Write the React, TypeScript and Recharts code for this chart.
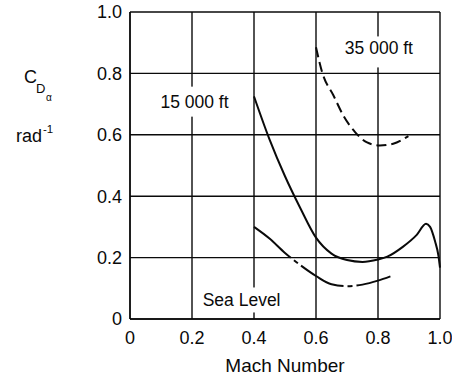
import {
  LineChart,
  Line,
  XAxis,
  YAxis,
  CartesianGrid,
  ReferenceDot,
  Label,
} from "recharts";

const TICKS = [0, 0.2, 0.4, 0.6, 0.8, 1.0];

// 15 000 ft (solid)
const FT15_MACH = [0.4, 0.45, 0.5, 0.55, 0.6, 0.65, 0.7, 0.75, 0.8, 0.83, 0.88, 0.925, 0.955, 0.968, 0.984, 0.995, 1.0];
const FT15_CD = [0.725, 0.585, 0.465, 0.36, 0.265, 0.213, 0.192, 0.186, 0.194, 0.203, 0.235, 0.274, 0.31, 0.3, 0.253, 0.206, 0.167];

// 35 000 ft (dashed)
const FT35_MACH = [0.6, 0.621, 0.656, 0.688, 0.726, 0.763, 0.806, 0.849, 0.898];
const FT35_CD = [0.885, 0.8, 0.729, 0.663, 0.609, 0.576, 0.565, 0.571, 0.596];

// Sea level (chain line)
const SEA_MACH = [0.4, 0.45, 0.5, 0.55, 0.6, 0.65, 0.7, 0.75, 0.8, 0.84];
const SEA_CD = [0.3, 0.262, 0.215, 0.175, 0.14, 0.113, 0.107, 0.112, 0.125, 0.139];

const toPoints = (mach: number[], cd: number[]) =>
  mach.map((m, i) => ({ mach: m, cd: cd[i] }));

const INK = "#0a0a0a";
const FONT = "'Liberation Sans', Arial, Helvetica, sans-serif";

const fmt = (v: number) => (v === 0 ? "0" : v.toFixed(1));

function Note({ cx, cy, text, w, h, dy = 0 }: any) {
  return (
    <g>
      <rect x={cx - w / 2} y={cy - h / 2 + dy} width={w} height={h} fill="#fff" />
      <text
        x={cx}
        y={cy}
        textAnchor="middle"
        dominantBaseline="central"
        fontSize={17.5}
        fontFamily={FONT}
        fill={INK}
      >
        {text}
      </text>
    </g>
  );
}

function YTitle(props: any) {
  const vb = props.viewBox || { x: 0, y: 12 };
  const x0 = vb.x;
  const y0 = vb.y - 12;
  return (
    <g fontFamily={FONT} fill={INK}>
      <text x={x0 + 24} y={y0 + 83} fontSize={18}>C</text>
      <text x={x0 + 36} y={y0 + 93} fontSize={13}>D</text>
      <text x={x0 + 46} y={y0 + 101} fontSize={10}>α</text>
      <text x={x0 + 16} y={y0 + 142} fontSize={18}>rad</text>
      <text x={x0 + 43} y={y0 + 133} fontSize={11.5}>-1</text>
    </g>
  );
}

function XTitle(props: any) {
  const vb = props.viewBox || { x: 130, y: 319, width: 310 };
  return (
    <text
      x={vb.x + vb.width / 2}
      y={vb.y + 53}
      textAnchor="middle"
      fontSize={19}
      fontFamily={FONT}
      fill={INK}
    >
      Mach Number
    </text>
  );
}

export default function App() {
  const tick = { fontSize: 18, fill: INK, fontFamily: FONT };
  return (
    <div
      style={{
        position: "absolute",
        left: 0,
        top: 0,
        width: 452,
        height: 377,
        background: "#fff",
      }}
    >
      <LineChart
        width={452}
        height={377}
        margin={{ top: 12, right: 12, bottom: 0, left: 0 }}
      >
        <CartesianGrid stroke={INK} strokeWidth={1.4} />
        <XAxis
          type="number"
          dataKey="mach"
          domain={[0, 1]}
          ticks={TICKS}
          tickFormatter={fmt}
          tick={tick}
          tickLine={false}
          axisLine={{ stroke: INK, strokeWidth: 1.4 }}
          tickMargin={6}
          height={58}
        >
          <Label content={<XTitle />} />
        </XAxis>
        <YAxis
          type="number"
          dataKey="cd"
          domain={[0, 1]}
          ticks={TICKS}
          tickFormatter={fmt}
          tick={tick}
          tickLine={false}
          axisLine={{ stroke: INK, strokeWidth: 1.4 }}
          width={130}
        >
          <Label content={<YTitle />} />
        </YAxis>
        <ReferenceDot
          x={0.208}
          y={0.708}
          r={1}
          shape={(p: any) => <Note cx={p.cx} cy={p.cy} text="15 000 ft" w={80} h={30} />}
        />
        <ReferenceDot
          x={0.803}
          y={0.883}
          r={1}
          shape={(p: any) => <Note cx={p.cx} cy={p.cy} text="35 000 ft" w={82} h={31} dy={4} />}
        />
        <ReferenceDot
          x={0.36}
          y={0.062}
          r={1}
          shape={(p: any) => <Note cx={p.cx} cy={p.cy} text="Sea Level" w={84} h={25} />}
        />
        <Line
          data={toPoints(FT15_MACH, FT15_CD)}
          dataKey="cd"
          type="monotone"
          stroke={INK}
          strokeWidth={2}
          dot={false}
          activeDot={false}
          isAnimationActive={false}
        />
        <Line
          data={toPoints(FT35_MACH, FT35_CD)}
          dataKey="cd"
          type="monotone"
          stroke={INK}
          strokeWidth={2}
          strokeDasharray="10 5"
          dot={false}
          activeDot={false}
          isAnimationActive={false}
        />
        <Line
          data={toPoints(SEA_MACH, SEA_CD)}
          dataKey="cd"
          type="monotone"
          stroke={INK}
          strokeWidth={2}
          strokeDasharray="48 4 5 4"
          dot={false}
          activeDot={false}
          isAnimationActive={false}
        />
      </LineChart>
    </div>
  );
}
